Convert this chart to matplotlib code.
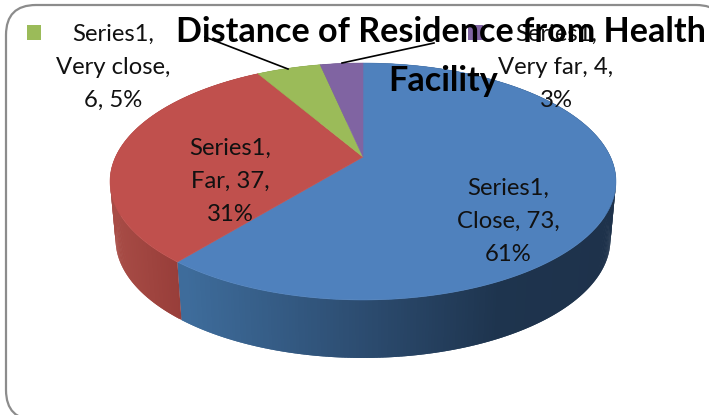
import numpy as np
import matplotlib
matplotlib.use('Agg')
import matplotlib.pyplot as plt
from matplotlib.patches import FancyBboxPatch, Polygon, Rectangle

plt.rcParams['font.family'] = ['Lato', 'DejaVu Sans']

# data
series_name = 'Series1'
categories = ['Close', 'Far', 'Very close', 'Very far']
values = [73, 37, 6, 4]
title_lines = ['Distance of Residence from Health', 'Facility']

top_colors = ['#4f81bd', '#c0504d', '#9bbb59', '#8064a2']

# label layout, pixels of the 709x415 picture
label_pos = [(508, 221), (230, 181), (113, 67), (556, 67)]
label_wrap = [
    ['{s},', '{c}, {v},', '{p}%'],
    ['{s},', '{c}, {v},', '{p}%'],
    ['{s},', '{c},', '{v}, {p}%'],
    ['{s},', '{c}, {v},', '{p}%'],
]

# perspective of the disc
CX, CY = 363, 157
A, B, K = 247.5, 113.4, 0.2068
DEPTH, SHRINK = 58, 0.978


def project(theta):
    # theta clockwise from the far point of the disc, degrees
    t = np.radians(theta)
    x, y = np.sin(t), np.cos(t)
    w = 1 + K * y
    return CX + A * x / w, CY - B * y / w


def wall_color(i, x):
    if i == 0:
        return np.array([np.interp(x, [186, 363, 500, 610], c)
                         for c in ([62, 44, 30, 30], [108, 76, 52, 50], [155, 112, 78, 75])]) / 255
    if i == 1:
        return np.array([np.interp(x, [112, 186], c)
                         for c in ([168, 150], [76, 60], [70, 56])]) / 255
    return np.array(matplotlib.colors.to_rgb(top_colors[i])) * 0.7


fig = plt.figure(figsize=(7.09, 4.15), dpi=100)
ax = fig.add_axes([0, 0, 1, 1])
ax.set_xlim(0, 709)
ax.set_ylim(415, 0)
ax.axis('off')

# rounded frame runs off the right and bottom edges
ax.add_patch(FancyBboxPatch((36, 35), 660, 355, boxstyle='round,pad=30,rounding_size=30',
                            fc='white', ec='#8c8c8c', lw=1.6, clip_on=True))

total = sum(values)
edges = np.cumsum([0] + values) / total * 360

# side wall first, the top covers what is hidden
# each quad reaches over the next one so no seams show
for i, v in enumerate(values):
    th = np.linspace(edges[i], edges[i + 1], int(v * 5) + 2)
    xs, ys = project(th)
    xb = CX + (xs - CX) * SHRINK
    yb = ys + DEPTH
    for j in range(len(th) - 1):
        k = min(j + 2, len(th) - 1)
        quad = [(xs[j], ys[j]), (xs[k], ys[k]), (xb[k], yb[k]), (xb[j], yb[j])]
        c = wall_color(i, (xs[j] + xs[j + 1]) / 2)
        ax.add_patch(Polygon(quad, closed=True, fc=c, ec='none'))

for i, v in enumerate(values):
    th = np.linspace(edges[i], edges[i + 1], 200)
    xs, ys = project(th)
    pts = [(CX, CY)] + list(zip(xs, ys))
    ax.add_patch(Polygon(pts, closed=True, fc=top_colors[i], ec=top_colors[i], lw=0.4))

# leader lines and legend keys of the two small slices
ax.plot([288, 205], [69, 37], color='black', lw=1.2)
ax.plot([342, 434], [63, 43], color='black', lw=1.2)
ax.add_patch(Rectangle((27, 25), 14, 15, fc=top_colors[2], ec='none'))
ax.add_patch(Rectangle((468, 25), 15, 15, fc=top_colors[3], ec='none'))

for i, (c, v) in enumerate(zip(categories, values)):
    p = round(v / total * 100)
    for n, line in enumerate(label_wrap[i]):
        ax.text(label_pos[i][0], label_pos[i][1] + (n - 1) * 33,
                line.format(s=series_name, c=c, v=v, p=p),
                ha='center', va='center', fontsize=17.2, color='#111111')

ax.text(441, 32, title_lines[0], ha='center', va='center', fontsize=24.6,
        fontweight='bold', color='black')
ax.text(443, 81, title_lines[1], ha='center', va='center', fontsize=24.6,
        fontweight='bold', color='black')

fig.savefig('out.png', dpi=100)
